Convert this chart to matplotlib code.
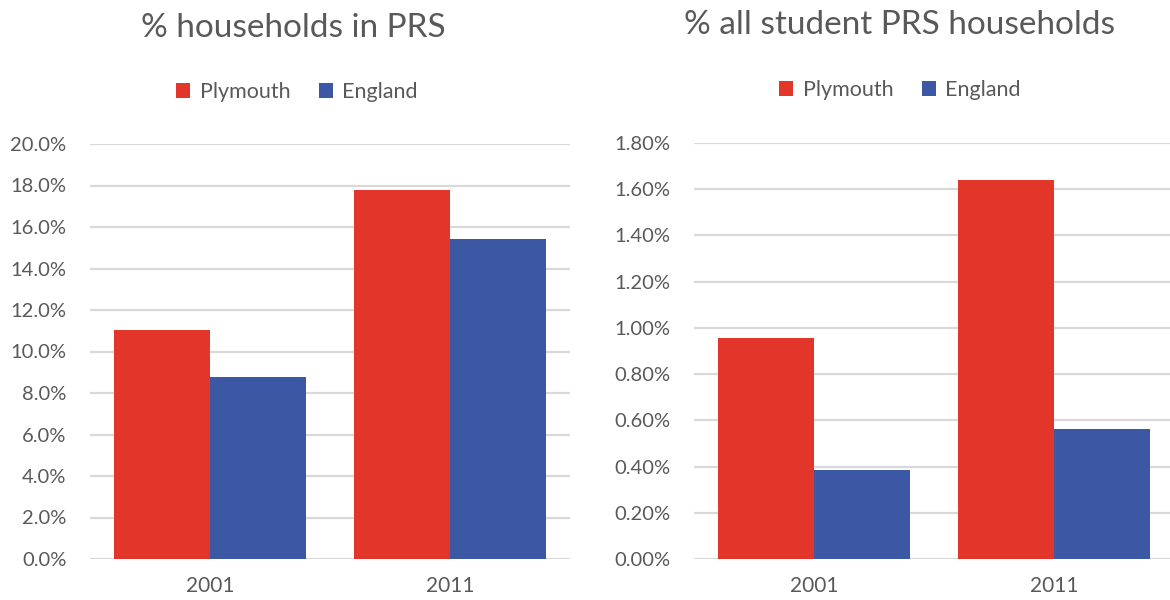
import matplotlib
matplotlib.use("Agg")
import matplotlib.pyplot as plt
from matplotlib.ticker import FuncFormatter, MultipleLocator

plt.rcParams['font.family'] = ['Lato', 'DejaVu Sans']

years = ["2001", "2011"]
series = ["Plymouth", "England"]
prs_plymouth = [11.06, 17.77]
prs_england = [8.77, 15.40]
student_plymouth = [0.958, 1.640]
student_england = [0.385, 0.561]

RED = "#E3362A"
BLUE = "#3C57A3"
TXT = "#595959"
GRID = "#D9D9D9"

W, H = 1170, 600
fig = plt.figure(figsize=(W / 100, H / 100), dpi=100)


def make_axes(rect, ply, eng, ymax, step, fmt, title, title_x, title_y, leg_x, leg_y):
    ax = fig.add_axes(rect)
    x = list(range(len(years)))
    bw = 0.4
    b1 = ax.bar([i - bw / 2 for i in x], ply, width=bw, color=RED, label=series[0], zorder=3)
    b2 = ax.bar([i + bw / 2 for i in x], eng, width=bw, color=BLUE, label=series[1], zorder=3)
    ax.set_xlim(-0.5, 1.5)
    ax.set_ylim(0, ymax)
    ax.yaxis.set_major_locator(MultipleLocator(step))
    ax.yaxis.set_major_formatter(FuncFormatter(lambda v, p: fmt.format(v)))
    ax.set_xticks(x)
    ax.set_xticklabels(years)
    ax.grid(axis='y', color=GRID, linewidth=1.6, zorder=0)
    for s in ax.spines.values():
        s.set_visible(False)
    ax.tick_params(axis='both', length=0, colors=TXT)
    ax.tick_params(axis='y', pad=17, labelsize=14.5)
    ax.tick_params(axis='x', pad=12, labelsize=15)
    fig.text(title_x / W, 1 - title_y / H, title, ha='center', va='center',
             fontsize=24, color=TXT)
    fig.legend(handles=[b1, b2], labels=series, loc='center',
               bbox_to_anchor=(leg_x / W, 1 - leg_y / H), ncol=2, frameon=False,
               fontsize=15.5, handlelength=0.65, handleheight=0.65, handletextpad=0.45,
               columnspacing=1.3, labelcolor=TXT)
    return ax


make_axes([90 / W, 1 - 559 / H, 480 / W, 415 / H], prs_plymouth, prs_england, 20, 2,
          "{:.1f}%", "% households in PRS", 293, 28, 297, 92)
make_axes([694 / W, 1 - 559 / H, 480 / W, 416 / H], student_plymouth, student_england, 1.8, 0.2,
          "{:.2f}%", "% all student PRS households", 900, 25, 900, 90)

fig.savefig("out.png", dpi=100, facecolor="white")
